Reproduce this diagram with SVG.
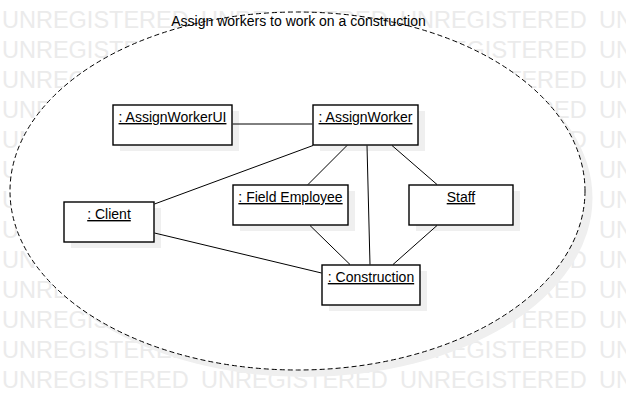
<svg xmlns="http://www.w3.org/2000/svg" xmlns:xlink="http://www.w3.org/1999/xlink" width="626" height="410" viewBox="0 0 626 410">
<style>
.wm{font-family:"Liberation Sans",Arial,sans-serif;font-size:23.5px;fill:#ebebeb}
.shadow{fill:#efefef}
.box{fill:#ffffff;stroke:#000000;stroke-width:1.4}
.lbl{font-family:"Liberation Sans",Arial,sans-serif;font-size:14px;text-decoration:underline;text-anchor:middle;fill:#000000}
.title{font-family:"Liberation Sans",Arial,sans-serif;font-size:14px;text-anchor:middle;fill:#000000}
.conn{stroke:#000000;stroke-width:1;fill:none}
</style>
<defs>
<g id="wmrow">
<text class="wm" x="2" y="28">UNREGISTERED</text>
<text class="wm" x="201" y="28">UNREGISTERED</text>
<text class="wm" x="400" y="28">UNREGISTERED</text>
<text class="wm" x="599" y="28">UNREGISTERED</text>
</g>
</defs>
<rect x="0" y="0" width="626" height="410" fill="#ffffff"/>
<g id="watermark">
<use href="#wmrow" xlink:href="#wmrow" y="0"/>
<use href="#wmrow" xlink:href="#wmrow" y="30"/>
<use href="#wmrow" xlink:href="#wmrow" y="60"/>
<use href="#wmrow" xlink:href="#wmrow" y="90"/>
<use href="#wmrow" xlink:href="#wmrow" y="120"/>
<use href="#wmrow" xlink:href="#wmrow" y="150"/>
<use href="#wmrow" xlink:href="#wmrow" y="180"/>
<use href="#wmrow" xlink:href="#wmrow" y="210"/>
<use href="#wmrow" xlink:href="#wmrow" y="240"/>
<use href="#wmrow" xlink:href="#wmrow" y="270"/>
<use href="#wmrow" xlink:href="#wmrow" y="300"/>
<use href="#wmrow" xlink:href="#wmrow" y="330"/>
<use href="#wmrow" xlink:href="#wmrow" y="360"/>
</g>
<g id="collaboration">
<ellipse class="shadow" cx="305" cy="198" rx="287.5" ry="179"/>
<ellipse cx="297.5" cy="191" rx="287.5" ry="179" fill="#ffffff" stroke="#000000" stroke-width="1" stroke-dasharray="5,3"/>
<text class="title" x="298.5" y="26">Assign workers to work on a construction</text>
</g>
<g id="node-assignworkerui">
<rect class="shadow" x="120" y="111" width="119" height="40"/>
<rect class="box" x="113" y="105" width="119" height="40"/>
<text class="lbl" x="172.5" y="122">: AssignWorkerUI</text>
</g>
<g id="node-assignworker">
<rect class="shadow" x="320" y="111" width="105" height="40"/>
<rect class="box" x="313" y="105" width="105" height="40"/>
<text class="lbl" x="365.5" y="122">: AssignWorker</text>
</g>
<g id="node-client">
<rect class="shadow" x="71" y="208" width="90" height="40"/>
<rect class="box" x="64" y="202" width="90" height="40"/>
<text class="lbl" x="109" y="219">: Client</text>
</g>
<g id="node-fieldemployee">
<rect class="shadow" x="240" y="191" width="115" height="40"/>
<rect class="box" x="233" y="185" width="115" height="40"/>
<text class="lbl" x="290.5" y="202">: Field Employee</text>
</g>
<g id="node-staff">
<rect class="shadow" x="416" y="191" width="104" height="40"/>
<rect class="box" x="409" y="185" width="104" height="40"/>
<text class="lbl" x="461" y="202">Staff</text>
</g>
<g id="node-construction">
<rect class="shadow" x="329" y="271" width="98" height="40"/>
<rect class="box" x="322" y="265" width="98" height="40"/>
<text class="lbl" x="371" y="282">: Construction</text>
</g>
<g id="connectors">
<line class="conn" x1="232.7" y1="124" x2="312.3" y2="124"/>
<line class="conn" x1="313" y1="145.5" x2="154.5" y2="204"/>
<line class="conn" x1="347" y1="145.5" x2="308" y2="184.5"/>
<line class="conn" x1="367" y1="145.5" x2="370" y2="264.5"/>
<line class="conn" x1="392" y1="145.5" x2="437" y2="184.5"/>
<line class="conn" x1="310" y1="225.5" x2="350" y2="264.5"/>
<line class="conn" x1="437" y1="225.5" x2="393" y2="264.5"/>
<line class="conn" x1="154.5" y1="233" x2="321.5" y2="273"/>
</g>
</svg>
